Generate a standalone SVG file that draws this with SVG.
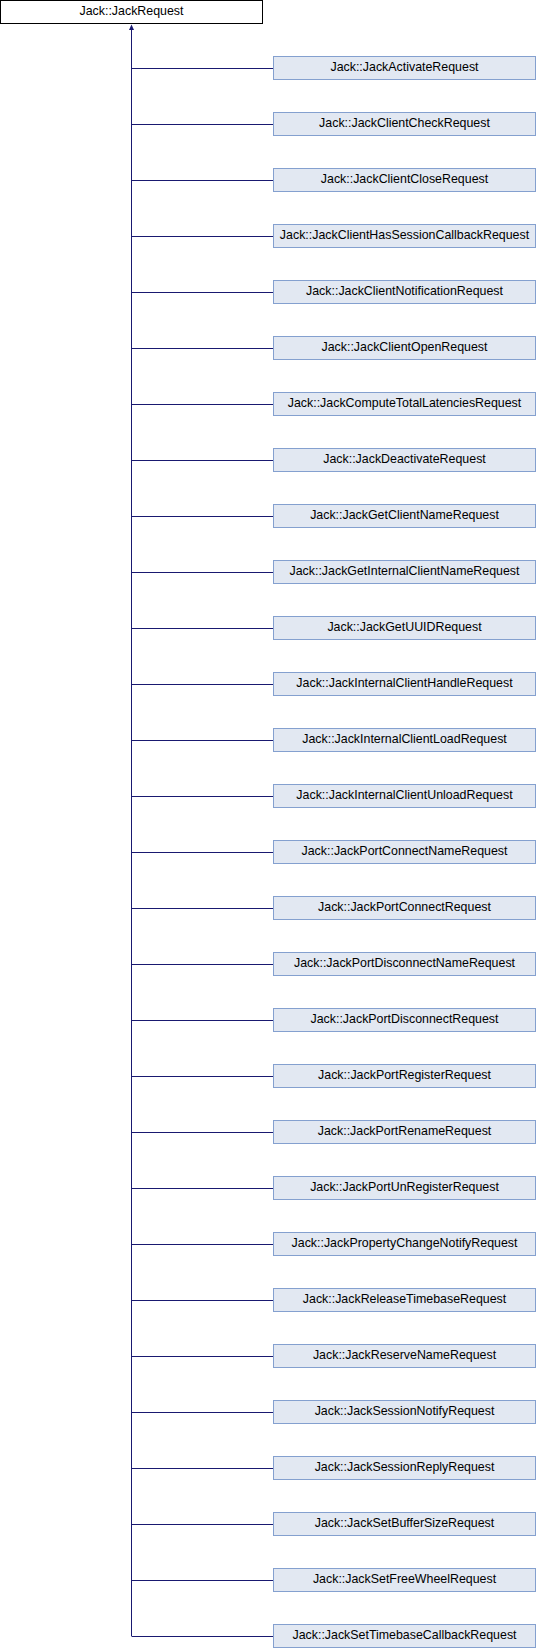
<svg xmlns="http://www.w3.org/2000/svg" width="536" height="1648" viewBox="0 0 536 1648">
<style>
.n rect{fill:#E2E8F2;stroke:#84A0CF;stroke-width:1}
.b rect{fill:#fff;stroke:#000;stroke-width:1}
text{font-family:"Liberation Sans",Arial,sans-serif;font-size:12.4px;fill:#000;text-anchor:middle}
.e{stroke:#191970;stroke-width:1;fill:none}
</style>
<rect width="536" height="1648" fill="#fff"/>
<g id="connectors">
<path class="e" d="M131.5,1636 V29"/>
<path d="M131.5,24.5 L134,30 L129,30 Z" fill="#191970"/>
<path class="e" d="M131.5,68.5H273.5M131.5,124.5H273.5M131.5,180.5H273.5M131.5,236.5H273.5M131.5,292.5H273.5M131.5,348.5H273.5M131.5,404.5H273.5M131.5,460.5H273.5M131.5,516.5H273.5M131.5,572.5H273.5M131.5,628.5H273.5M131.5,684.5H273.5M131.5,740.5H273.5M131.5,796.5H273.5M131.5,852.5H273.5M131.5,908.5H273.5M131.5,964.5H273.5M131.5,1020.5H273.5M131.5,1076.5H273.5M131.5,1132.5H273.5M131.5,1188.5H273.5M131.5,1244.5H273.5M131.5,1300.5H273.5M131.5,1356.5H273.5M131.5,1412.5H273.5M131.5,1468.5H273.5M131.5,1524.5H273.5M131.5,1580.5H273.5M131.5,1636.5H273.5"/>
</g>
<g id="JackRequest" class="b"><rect x="0.5" y="0.5" width="262" height="23"/><text x="131.5" y="15">Jack::JackRequest</text></g>
<g id="n1" class="n"><rect x="273.5" y="56.5" width="262" height="23"/><text x="404.5" y="71">Jack::JackActivateRequest</text></g>
<g id="n2" class="n"><rect x="273.5" y="112.5" width="262" height="23"/><text x="404.5" y="127">Jack::JackClientCheckRequest</text></g>
<g id="n3" class="n"><rect x="273.5" y="168.5" width="262" height="23"/><text x="404.5" y="183">Jack::JackClientCloseRequest</text></g>
<g id="n4" class="n"><rect x="273.5" y="224.5" width="262" height="23"/><text x="404.5" y="239">Jack::JackClientHasSessionCallbackRequest</text></g>
<g id="n5" class="n"><rect x="273.5" y="280.5" width="262" height="23"/><text x="404.5" y="295">Jack::JackClientNotificationRequest</text></g>
<g id="n6" class="n"><rect x="273.5" y="336.5" width="262" height="23"/><text x="404.5" y="351">Jack::JackClientOpenRequest</text></g>
<g id="n7" class="n"><rect x="273.5" y="392.5" width="262" height="23"/><text x="404.5" y="407">Jack::JackComputeTotalLatenciesRequest</text></g>
<g id="n8" class="n"><rect x="273.5" y="448.5" width="262" height="23"/><text x="404.5" y="463">Jack::JackDeactivateRequest</text></g>
<g id="n9" class="n"><rect x="273.5" y="504.5" width="262" height="23"/><text x="404.5" y="519">Jack::JackGetClientNameRequest</text></g>
<g id="n10" class="n"><rect x="273.5" y="560.5" width="262" height="23"/><text x="404.5" y="575">Jack::JackGetInternalClientNameRequest</text></g>
<g id="n11" class="n"><rect x="273.5" y="616.5" width="262" height="23"/><text x="404.5" y="631">Jack::JackGetUUIDRequest</text></g>
<g id="n12" class="n"><rect x="273.5" y="672.5" width="262" height="23"/><text x="404.5" y="687">Jack::JackInternalClientHandleRequest</text></g>
<g id="n13" class="n"><rect x="273.5" y="728.5" width="262" height="23"/><text x="404.5" y="743">Jack::JackInternalClientLoadRequest</text></g>
<g id="n14" class="n"><rect x="273.5" y="784.5" width="262" height="23"/><text x="404.5" y="799">Jack::JackInternalClientUnloadRequest</text></g>
<g id="n15" class="n"><rect x="273.5" y="840.5" width="262" height="23"/><text x="404.5" y="855">Jack::JackPortConnectNameRequest</text></g>
<g id="n16" class="n"><rect x="273.5" y="896.5" width="262" height="23"/><text x="404.5" y="911">Jack::JackPortConnectRequest</text></g>
<g id="n17" class="n"><rect x="273.5" y="952.5" width="262" height="23"/><text x="404.5" y="967">Jack::JackPortDisconnectNameRequest</text></g>
<g id="n18" class="n"><rect x="273.5" y="1008.5" width="262" height="23"/><text x="404.5" y="1023">Jack::JackPortDisconnectRequest</text></g>
<g id="n19" class="n"><rect x="273.5" y="1064.5" width="262" height="23"/><text x="404.5" y="1079">Jack::JackPortRegisterRequest</text></g>
<g id="n20" class="n"><rect x="273.5" y="1120.5" width="262" height="23"/><text x="404.5" y="1135">Jack::JackPortRenameRequest</text></g>
<g id="n21" class="n"><rect x="273.5" y="1176.5" width="262" height="23"/><text x="404.5" y="1191">Jack::JackPortUnRegisterRequest</text></g>
<g id="n22" class="n"><rect x="273.5" y="1232.5" width="262" height="23"/><text x="404.5" y="1247">Jack::JackPropertyChangeNotifyRequest</text></g>
<g id="n23" class="n"><rect x="273.5" y="1288.5" width="262" height="23"/><text x="404.5" y="1303">Jack::JackReleaseTimebaseRequest</text></g>
<g id="n24" class="n"><rect x="273.5" y="1344.5" width="262" height="23"/><text x="404.5" y="1359">Jack::JackReserveNameRequest</text></g>
<g id="n25" class="n"><rect x="273.5" y="1400.5" width="262" height="23"/><text x="404.5" y="1415">Jack::JackSessionNotifyRequest</text></g>
<g id="n26" class="n"><rect x="273.5" y="1456.5" width="262" height="23"/><text x="404.5" y="1471">Jack::JackSessionReplyRequest</text></g>
<g id="n27" class="n"><rect x="273.5" y="1512.5" width="262" height="23"/><text x="404.5" y="1527">Jack::JackSetBufferSizeRequest</text></g>
<g id="n28" class="n"><rect x="273.5" y="1568.5" width="262" height="23"/><text x="404.5" y="1583">Jack::JackSetFreeWheelRequest</text></g>
<g id="n29" class="n"><rect x="273.5" y="1624.5" width="262" height="23"/><text x="404.5" y="1639">Jack::JackSetTimebaseCallbackRequest</text></g>
</svg>
